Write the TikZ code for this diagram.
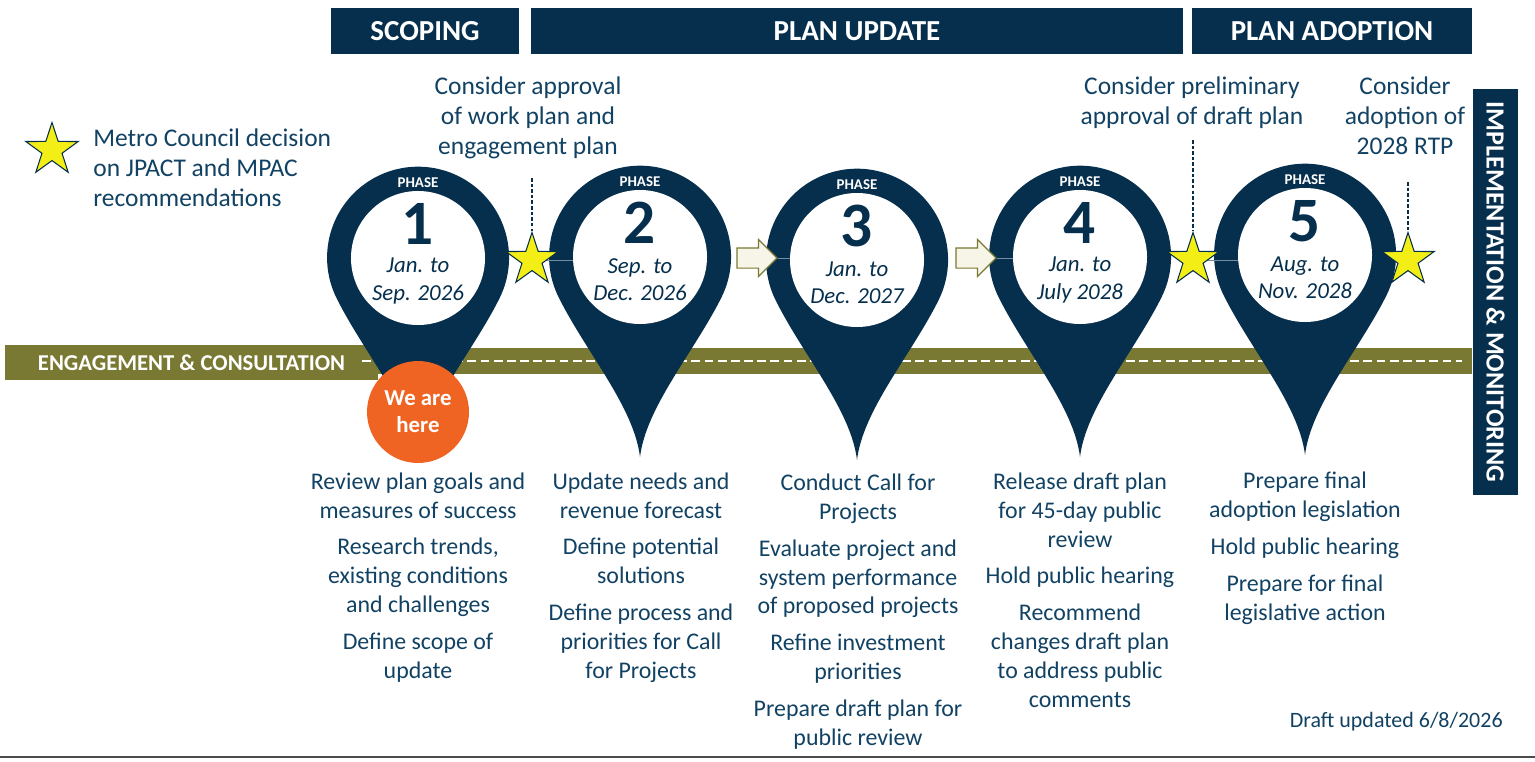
\documentclass[tikz,border=0pt]{standalone}
\usepackage{fontspec}
\setmainfont{Carlito}
\usepackage{xcolor}
\usepackage{tikz}
\usetikzlibrary{shapes.geometric,shapes.arrows}

\definecolor{navy}{RGB}{6,47,77}
\definecolor{ink}{RGB}{18,66,99}
\definecolor{olivebar}{RGB}{121,121,52}
\definecolor{pinorange}{RGB}{240,100,35}
\definecolor{staryellow}{RGB}{242,238,22}
\definecolor{cream}{RGB}{246,245,232}

\begin{document}
\begin{tikzpicture}[x=0.02cm,y=-0.02cm,
    hdr/.style={fill=navy,text=white,font=\fontsize{16.5}{19}\selectfont\bfseries,minimum height=0.92cm,inner sep=0},
    txt/.style={text=ink,align=center,font=\fontsize{13.6}{16.4}\selectfont,inner sep=0,anchor=base},
    note/.style={text=ink,align=center,font=\fontsize{14.5}{16.8}\selectfont,inner sep=0,anchor=base},
    decision/.style={star,star points=5,star point ratio=2.6,fill=staryellow,draw=navy,line width=0.6pt,minimum size=1.1cm,inner sep=0},
    blockarrow/.style={single arrow,fill=cream,draw=olivebar,line width=0.7pt,minimum height=0.8cm,inner xsep=0,inner ysep=0.19cm,text height=0pt,text depth=0pt,single arrow head extend=0.17cm,single arrow tip angle=90},
    phase/.style={text=white,font=\fontsize{8.5}{10}\selectfont\bfseries,inner sep=0},
    phasenum/.style={text=navy,font=\fontsize{36}{40}\selectfont\bfseries,inner sep=0,text depth=0pt,text height=22pt},
    dates/.style={text=navy,align=center,font=\fontsize{13}{15.5}\selectfont\itshape,inner sep=0},
    leader/.style={navy,line width=0.6pt,dash pattern=on 2pt off 1.2pt},
    ring/.style={navy!55!white,line width=0.5pt}]
  \useasboundingbox (0,0) rectangle (1535,761);

  \def\pin#1#2#3#4#5#6{
    \coordinate (#1) at (#2,#3);
    \begin{scope}[shift={(#1)}]
      \fill[navy] (0,200) .. controls (-6,150) and (-54,95) .. (-81,41)
        arc[start angle=153,end angle=387,radius=91]
        .. controls (54,95) and (6,150) .. (0,200) -- cycle;
      \fill[white] (0,0) circle[radius=67];
      \coordinate (#1w) at (-67,0);
      \node[phase] (#1h) at (0,-75) {PHASE};
      \node[phasenum] (#1n) at (0,-33) {#4};
      \node[dates] (#1d) at (0,23) {#5\\#6};
    \end{scope}}

  \node[hdr,minimum width=3.76cm] (scoping) at (425,31) {SCOPING};
  \node[hdr,minimum width=13.04cm] (update) at (857,31) {PLAN UPDATE};
  \node[hdr,minimum width=5.6cm] (adoption) at (1332,31) {PLAN ADOPTION};
  \node[hdr,rotate=-90,minimum width=8.12cm,minimum height=0.9cm,font=\fontsize{14.9}{17}\selectfont\bfseries] (impl) at (1495.5,292) {IMPLEMENTATION \& MONITORING};

  \node[decision] (legstar) at (52,150) {};
  \node[text=ink,align=left,font=\fontsize{14.5}{17}\selectfont,inner sep=0,anchor=base west] (legend) at (93,206)
    {Metro Council decision\\on JPACT and MPAC\\recommendations};

  \fill[olivebar] (5,348) rectangle (1472,374);
  \node[fill=olivebar,text=white,font=\fontsize{12.9}{15}\selectfont\bfseries,minimum width=7.46cm,minimum height=0.7cm,inner sep=0] (eng) at (191.5,362.5) {ENGAGEMENT \& CONSULTATION};
  \draw[white,line width=1.1pt,dash pattern=on 5pt off 2.5pt] (362,361) -- (1462,361);

  \pin{p1}{418}{258}{1}{Jan. to}{Sep. 2026}
  \pin{p2}{640}{257}{2}{Sep. to}{Dec. 2026}
  \pin{p3}{857}{260}{3}{Jan. to}{Dec. 2027}
  \pin{p4}{1080}{257}{4}{Jan. to}{July 2028}
  \pin{p5}{1305}{255}{5}{Aug. to}{Nov. 2028}

  \node[blockarrow] (ar1) at (752,258) {};
  \node[blockarrow] (ar2) at (971,258) {};
  \coordinate (s1) at (532,260);
  \coordinate (s2) at (1193,260);
  \coordinate (s3) at (1408,260);
  \draw[ring] (s1) -- (s1 -| p2w);
  \draw[ring] (s2) -- (s2 -| p5w);
  \draw[ring] (ar1.tip) -- (ar1.tip -| p3w);
  \draw[ring] (ar2.tip) -- (ar2.tip -| p4w);
  \node[decision] (st1) at (s1) {};
  \node[decision] (st2) at (s2) {};
  \node[decision] (st3) at (s3) {};

  \node[note] (a1) at (528,154) {Consider approval\\of work plan and\\engagement plan};
  \node[note] (a2) at (1192,124) {Consider preliminary\\approval of draft plan};
  \node[note] (a3) at (1405,154) {Consider\\adoption of\\2028 RTP};
  \coordinate (t1) at (532,178);
  \coordinate (t2) at (1193,140);
  \coordinate (t3) at (1408,182);
  \draw[leader] (t1) -- (st1.north);
  \draw[leader] (t2) -- (st2.north);
  \draw[leader] (t3) -- (st3.north);

  \node[circle,fill=pinorange,text=white,align=center,font=\fontsize{13}{15.3}\selectfont\bfseries,minimum size=2.04cm,inner sep=0] (here) at (418,412) {We are\\here};

  \node[txt] (c1) at (418,678) {Review plan goals and\\measures of success\\[4.5pt]Research trends,\\existing conditions\\and challenges\\[4.5pt]Define scope of\\update};
  \node[txt] (c2) at (641,678) {Update needs and\\revenue forecast\\[4.5pt]Define potential\\solutions\\[4.5pt]Define process and\\priorities for Call\\for Projects};
  \node[txt] (c3) at (858,745) {Conduct Call for\\Projects\\[4.5pt]Evaluate project and\\system performance\\of proposed projects\\[4.5pt]Refine investment\\priorities\\[4.5pt]Prepare draft plan for\\public review};
  \node[txt] (c4) at (1080,707) {Release draft plan\\for 45-day public\\review\\[4.5pt]Hold public hearing\\[4.5pt]Recommend\\changes draft plan\\to address public\\comments};
  \node[txt] (c5) at (1305,620) {Prepare final\\adoption legislation\\[4.5pt]Hold public hearing\\[4.5pt]Prepare for final\\legislative action};

  \node[text=ink,font=\fontsize{12.5}{15}\selectfont,inner sep=0,anchor=base east] (draft) at (1503,727) {Draft updated 6/8/2026};
  \draw[black!70,line width=1.1pt] (0,757) -- (1535,757);
\end{tikzpicture}
\end{document}
